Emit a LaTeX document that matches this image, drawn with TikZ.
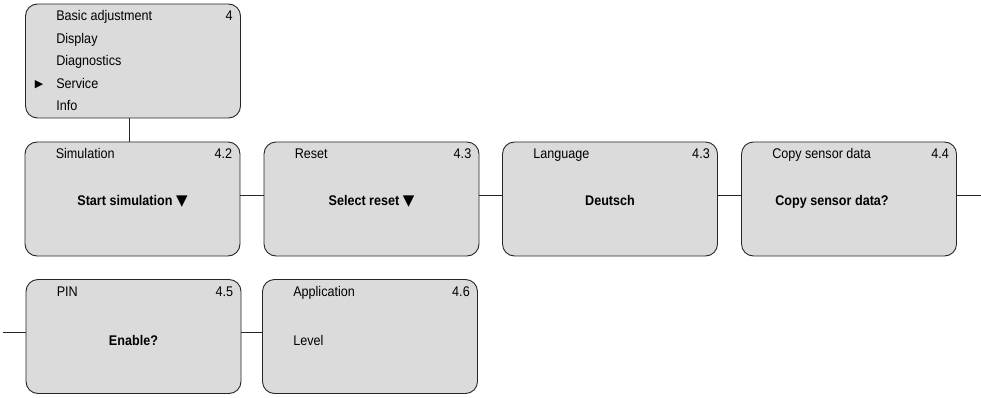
\documentclass[tikz,border=0pt]{standalone}
\usepackage{fontspec}
\setmainfont{Liberation Sans}[FakeStretch=0.9]
\newfontfamily\symfont{DejaVu Sans}

\begin{document}
\begin{tikzpicture}[x=1pt, y=-1pt,
  every node/.style={font=\fontsize{14}{16}\selectfont, inner sep=0pt},
  box/.style={draw=black!85, fill=black!14, line width=0.9pt, rounded corners=12pt, minimum width=215pt, minimum height=114pt},
  conn/.style={draw=black!85, line width=0.9pt}]
\useasboundingbox (0,0) rectangle (981,398);

% main menu
\node[box] (menu) at (133,61) {};
\foreach \txt [count=\i] in {Basic adjustment, Display, Diagnostics, Service, Info}
  \node[anchor=base west] (item\i) at ([xshift=31pt, yshift={-17pt-22.5pt*(\i-1)}]menu.north west) {\txt};
\node[anchor=base east] (menunum) at ([xshift=-8pt, yshift=-17pt]menu.north east) {4};
\node[anchor=base] (mark) at ([xshift=-17pt, yshift=0.5pt]item4.base west) {\symfont\fontsize{11}{12}\selectfont ▶};

% submenu boxes
\node[box] (sim) at (132.5,199) {};
\node[box] (reset) at (371.5,199) {};
\node[box] (lang) at (610,199) {};
\node[box] (copy) at (849,199) {};
\node[box] (pin) at (133.5,336.5) {};
\node[box] (appl) at (370,336.5) {};

\foreach \b/\t/\n in {sim/Simulation/4.2, reset/Reset/4.3, lang/Language/4.3, copy/Copy sensor data/4.4, pin/PIN/4.5, appl/Application/4.6} {
  \node[anchor=base west] (\b-title) at ([xshift=31pt, yshift=-17pt]\b.north west) {\t};
  \node[anchor=base east] (\b-num) at ([xshift=-8pt, yshift=-17pt]\b.north east) {\n};
}

\node[anchor=base] (sim-val) at ([yshift=-6pt]sim.center) {\textbf{Start simulation {\symfont\fontsize{15}{16}\selectfont ▼}}};
\node[anchor=base] (reset-val) at ([yshift=-6pt]reset.center) {\textbf{Select reset {\symfont\fontsize{15}{16}\selectfont ▼}}};
\node[anchor=base] (lang-val) at ([yshift=-6pt]lang.center) {\textbf{Deutsch}};
\node[anchor=base west] (copy-val) at ([xshift=34pt, yshift=-6pt]copy.west) {\textbf{Copy sensor data?}};
\node[anchor=base] (pin-val) at ([yshift=-9pt]pin.center) {\textbf{Enable?}};
\node[anchor=base west] (appl-val) at ([xshift=31pt, yshift=-9pt]appl.west) {Level};

% connectors
\coordinate (out) at (981,195);
\coordinate (in) at (3,332);
\draw[conn] ([xshift=-4pt]menu.south) -- ([xshift=-3.5pt]sim.north);
\draw[conn] ([yshift=4pt]sim.east) -- ([yshift=4pt]reset.west);
\draw[conn] ([yshift=4pt]reset.east) -- ([yshift=4pt]lang.west);
\draw[conn] ([yshift=4pt]lang.east) -- ([yshift=4pt]copy.west);
\draw[conn] ([yshift=4pt]copy.east) -- (out);
\draw[conn] (in) -- ([yshift=4.5pt]pin.west);
\draw[conn] ([yshift=4.5pt]pin.east) -- ([yshift=4.5pt]appl.west);
\end{tikzpicture}
\end{document}
